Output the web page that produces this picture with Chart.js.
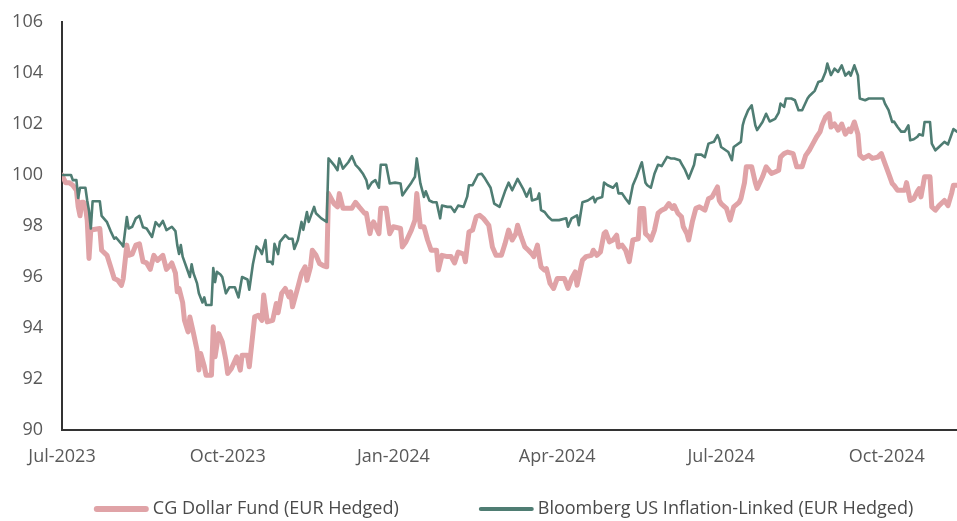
<!DOCTYPE html>
<html>
<head>
<meta charset="utf-8">
<script src="https://cdn.jsdelivr.net/npm/chart.js@4.4.1/dist/chart.umd.min.js"></script>
<style>
  html, body { margin: 0; padding: 0; background: #ffffff; }
  #wrap { position: relative; width: 957px; height: 521px; }
</style>
</head>
<body>
<div id="wrap"><canvas id="c" width="957" height="521"></canvas></div>
<script>
// x values are days since 1 Jul 2023
const seriesNames = ['CG Dollar Fund (EUR Hedged)', 'Bloomberg US Inflation-Linked (EUR Hedged)'];

const tickDays   = [0, 92, 184, 275, 366, 458];
const tickLabels = ['Jul-2023', 'Oct-2023', 'Jan-2024', 'Apr-2024', 'Jul-2024', 'Oct-2024'];
const yTicks     = [90, 92, 94, 96, 98, 100, 102, 104, 106];

const fundDays = [0,2,4,6,8,9,10,11,12,13,14,15,16,21,22,25,27,29,31,33,34,36,37,39,41,43,45,47,49,51,53,56,58,60,61,63,64,65,67,68,70,71,73,75,76,77,79,80,83,84,85,87,89,91,92,94,97,99,100,103,104,107,109,111,112,114,117,119,120,122,124,126,127,128,131,133,135,136,138,139,141,143,145,147,148,151,153,154,156,159,161,163,165,168,169,171,172,173,176,177,180,182,184,188,189,191,194,196,197,199,201,203,205,208,209,211,214,216,218,220,223,224,226,228,230,232,234,237,239,241,244,246,248,250,252,253,255,257,259,261,262,264,265,266,268,269,271,273,275,276,279,281,283,285,286,289,291,294,295,297,299,301,302,304,306,308,309,311,313,315,317,320,321,323,324,326,327,329,331,333,335,337,339,340,342,344,345,347,348,350,352,354,357,359,361,364,365,366,369,371,373,376,377,379,380,383,385,386,389,391,394,396,398,399,401,403,406,408,411,413,415,417,419,421,422,424,426,427,429,431,433,435,437,438,440,442,443,445,448,450,453,455,457,459,461,462,464,466,468,469,471,473,475,476,477,479,482,483,485,487,490,492,494,495,497];
const fundValues = [100.0,99.7,99.7,99.6,99.4,98.75,98.4,98.93,98.93,98.75,98.23,96.73,97.84,97.9,97.05,96.85,96.4,95.94,95.87,95.67,95.94,97.25,96.85,96.9,97.25,97.3,96.6,96.55,96.3,96.85,96.65,96.85,96.3,96.45,96.55,96.15,95.42,95.55,95.0,94.3,93.85,94.43,93.8,93.13,92.35,93.0,92.5,92.15,92.15,94.05,92.87,93.78,93.46,92.74,92.22,92.4,92.87,92.35,92.93,92.93,92.48,94.44,94.5,94.3,95.29,94.24,94.3,94.96,94.6,95.36,95.55,95.22,95.42,94.83,95.6,96.14,96.4,95.87,96.4,97.05,96.86,96.53,96.45,96.4,99.27,98.88,98.75,99.27,98.7,98.7,98.7,98.93,98.75,98.5,98.5,97.7,98.03,98.16,97.7,98.7,98.7,97.7,97.97,97.9,97.18,97.38,97.84,98.23,99.27,97.97,97.97,97.45,97.05,97.05,96.27,96.85,96.8,96.8,96.55,96.98,96.9,96.6,97.77,97.84,98.36,98.42,98.3,98.03,97.18,96.85,96.85,97.3,97.84,97.45,97.7,98.03,97.57,97.18,97.05,96.9,96.8,97.25,96.8,96.4,96.27,96.33,95.75,95.55,95.94,95.94,95.94,95.55,95.94,96.2,95.68,96.66,96.8,96.85,97.05,96.85,96.98,97.7,97.77,97.38,97.45,97.64,97.18,97.25,97.05,96.6,97.45,97.5,98.69,98.69,97.7,97.57,97.45,97.84,98.5,98.62,98.69,98.88,98.69,98.8,98.5,98.36,97.97,97.7,97.45,98.16,98.69,98.75,98.62,99.07,99.14,99.53,99.0,98.88,98.69,98.23,98.75,98.93,99.07,99.7,100.32,100.32,99.7,99.47,99.93,100.32,100.06,100.12,100.19,100.7,100.84,100.9,100.84,100.32,100.32,100.77,100.97,101.23,101.49,101.7,101.95,102.27,102.41,101.88,102.0,101.76,102.0,101.6,101.8,101.7,102.08,101.6,100.78,100.65,100.77,100.65,100.7,100.84,100.45,100.06,99.67,99.6,99.4,99.4,99.4,99.7,99.0,99.07,99.36,99.47,99.14,99.93,99.93,98.75,98.62,98.8,99.0,98.8,99.28,99.6,99.6];

const indexDays = [0,3,5,6,8,9,10,13,14,15,16,17,21,22,25,27,29,30,33,34,36,37,39,41,43,45,47,50,52,54,56,58,61,63,64,65,66,67,69,71,72,73,75,76,78,79,80,83,84,85,86,88,89,91,93,96,98,100,103,104,106,108,110,111,113,114,116,117,118,120,121,124,126,128,129,131,133,134,136,137,140,141,144,147,148,151,153,154,156,159,161,163,165,167,169,170,172,174,176,177,180,182,185,188,189,191,194,196,197,199,201,202,204,206,208,210,211,214,216,218,220,223,225,226,228,231,233,235,238,240,243,246,248,250,253,256,258,260,261,264,265,266,268,270,272,274,276,280,281,283,286,287,289,292,295,296,297,300,301,303,306,308,309,311,313,315,317,319,321,322,324,325,327,329,331,333,336,338,340,343,344,346,348,351,352,355,357,359,362,364,365,366,368,370,372,373,377,378,379,381,383,385,386,389,391,393,396,398,399,401,402,405,407,409,411,414,415,418,420,422,424,425,427,429,431,433,435,437,438,440,442,443,446,448,450,453,456,457,459,461,462,464,466,468,470,471,473,475,476,478,479,482,483,485,487,490,492,494,495,497];
const indexValues = [100.0,100.0,100.0,99.8,99.8,99.1,99.5,99.5,99.0,98.6,97.9,98.97,98.97,98.4,98.15,97.8,97.5,97.55,97.3,97.2,98.35,97.9,97.97,98.3,98.4,97.95,97.9,97.57,98.15,97.99,98.2,97.84,97.97,97.8,97.25,96.9,97.25,96.8,96.4,96.0,96.5,96.15,95.75,95.36,95.0,95.2,94.9,94.9,96.35,95.8,96.2,96.1,96.0,95.36,95.6,95.6,95.2,96.0,95.9,95.5,96.5,97.2,97.05,96.9,97.45,96.6,96.6,96.5,97.3,96.9,97.38,97.64,97.5,97.5,97.1,97.45,98.16,97.85,98.55,98.16,98.75,98.5,98.3,98.16,100.65,100.4,100.19,100.65,100.25,100.5,100.74,100.4,100.25,100.06,99.8,99.47,99.7,99.8,99.5,100.4,100.4,99.67,99.7,99.67,99.2,99.4,99.7,99.93,100.65,99.67,99.14,99.36,99.0,98.93,98.93,98.3,98.8,98.75,98.75,98.55,98.8,98.75,99.15,99.6,99.6,100.02,100.05,99.85,99.5,98.88,98.75,99.36,99.7,99.4,99.85,99.47,99.15,99.47,99.0,99.07,99.28,98.62,98.55,98.36,98.23,98.23,98.23,98.3,97.97,98.3,98.42,98.03,98.93,99.0,99.14,98.93,99.07,99.14,99.7,99.6,99.5,99.67,99.28,99.28,99.07,98.88,99.6,99.93,100.32,100.5,99.7,99.6,99.5,100.05,100.4,100.35,100.71,100.65,100.65,100.58,100.45,100.2,99.86,100.4,100.8,100.8,100.7,101.23,101.3,101.56,101.4,101.1,101.0,100.9,100.58,101.1,101.3,101.95,102.2,102.54,102.73,101.95,101.76,102.08,102.4,102.1,102.2,102.45,102.8,102.67,103.0,103.0,102.93,102.54,102.54,103.0,103.1,103.3,103.65,103.7,104.04,104.37,103.92,104.17,104.04,104.3,103.9,104.04,103.9,104.3,103.9,103.0,102.93,103.0,103.0,103.0,103.0,102.8,102.54,102.08,102.1,101.88,101.7,101.7,101.95,101.36,101.4,101.5,101.6,101.55,102.08,102.08,101.23,100.97,101.1,101.3,101.2,101.6,101.8,101.7];

const fundColor  = '#e0a3a7';
const indexColor = '#4f7d73';
const textColor  = '#595959';
const axisColor  = '#333333';
const FONT = '"Open Sans", "Noto Sans", sans-serif';

const toPoints = (xs, ys) => xs.map((x, i) => ({ x: x, y: ys[i] }));

const customLegend = {
  id: 'customLegend',
  afterDraw(chart) {
    const { ctx, chartArea } = chart;
    const ds = chart.data.datasets;
    ctx.save();
    ctx.font = '18px ' + FONT;
    const sample = 55, textGap = 4, itemGap = 80;
    const widths = ds.map(d => sample + textGap + ctx.measureText(d.label).width);
    const total = widths.reduce((a, b) => a + b, 0) + itemGap * (ds.length - 1);
    let x = (chartArea.left + chartArea.right) / 2 - 6 - total / 2;
    const y = chart.height - 12;
    ds.forEach((d, i) => {
      ctx.strokeStyle = d.borderColor;
      ctx.lineWidth = d.legendWidth;
      ctx.lineCap = 'round';
      ctx.beginPath();
      ctx.moveTo(x + d.legendWidth / 2, y);
      ctx.lineTo(x + sample - d.legendWidth / 2, y);
      ctx.stroke();
      ctx.fillStyle = '#4a4a4a';
      ctx.textBaseline = 'middle';
      ctx.textAlign = 'left';
      ctx.fillText(d.label, x + sample + textGap, y);
      x += widths[i] + itemGap;
    });
    ctx.restore();
  }
};

new Chart(document.getElementById('c'), {
  type: 'line',
  data: {
    datasets: [
      {
        label: seriesNames[0],
        data: toPoints(fundDays, fundValues),
        borderColor: fundColor,
        backgroundColor: fundColor,
        borderWidth: 5,
        legendWidth: 6,
        pointRadius: 0,
        tension: 0,
        borderJoinStyle: 'round',
        borderCapStyle: 'round',
        order: 2
      },
      {
        label: seriesNames[1],
        data: toPoints(indexDays, indexValues),
        borderColor: indexColor,
        backgroundColor: indexColor,
        borderWidth: 2.6,
        legendWidth: 4,
        pointRadius: 0,
        tension: 0,
        borderJoinStyle: 'round',
        borderCapStyle: 'round',
        order: 1
      }
    ]
  },
  options: {
    responsive: false,
    animation: false,
    devicePixelRatio: 1,
    layout: { padding: { top: 22, right: 0, bottom: 50, left: 0 } },
    plugins: {
      legend: { display: false },
      tooltip: { enabled: false }
    },
    scales: {
      x: {
        type: 'linear',
        min: 0,
        max: fundDays[fundDays.length - 1],
        grid: { display: false, drawTicks: false },
        border: { display: true, color: axisColor, width: 2 },
        afterBuildTicks: (axis) => { axis.ticks = tickDays.map(v => ({ value: v })); },
        afterFit: (s) => { s.height = 41; s.paddingLeft = 0; s.paddingRight = 0; },
        ticks: {
          autoSkip: false,
          maxRotation: 0,
          padding: 16,
          color: textColor,
          font: { family: FONT, size: 18 },
          callback: (v) => tickLabels[tickDays.indexOf(v)]
        }
      },
      y: {
        min: 90,
        max: 106,
        grid: { display: false, drawTicks: false },
        border: { display: true, color: axisColor, width: 2 },
        afterBuildTicks: (axis) => { axis.ticks = yTicks.map(v => ({ value: v })); },
        afterFit: (s) => { s.width = 62; s.paddingTop = 0; s.paddingBottom = 0; },
        ticks: {
          padding: 19,
          color: textColor,
          font: { family: FONT, size: 18 }
        }
      }
    }
  },
  plugins: [customLegend]
});
</script>
</body>
</html>
